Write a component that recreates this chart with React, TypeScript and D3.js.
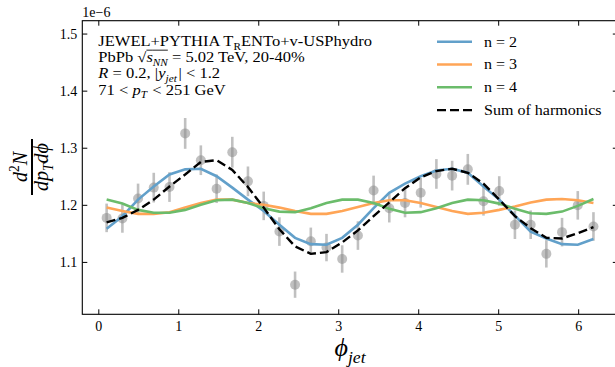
import React, { useEffect, useRef } from 'react';
import * as d3 from 'd3';

// bin centres in phi_jet (32 bins over 0..2pi)
const phi = [0.098, 0.295, 0.491, 0.687, 0.884, 1.080, 1.276, 1.473, 1.669, 1.865, 2.062, 2.258,
  2.454, 2.651, 2.847, 3.043, 3.240, 3.436, 3.632, 3.829, 4.025, 4.221, 4.418, 4.614,
  4.810, 5.007, 5.203, 5.400, 5.596, 5.792, 5.989, 6.185];

// JEWEL points (units of 1e-6)
const counts = [1.178, 1.177, 1.212, 1.231, 1.232, 1.326, 1.279, 1.229, 1.293, 1.242, 1.199, 1.154,
  1.061, 1.137, 1.126, 1.106, 1.147, 1.226, 1.195, 1.204, 1.222, 1.255, 1.252, 1.263,
  1.207, 1.225, 1.166, 1.166, 1.115, 1.153, 1.200, 1.163];
const errors = [0.025, 0.025, 0.026, 0.026, 0.026, 0.027, 0.026, 0.025, 0.027, 0.026, 0.025, 0.025,
  0.023, 0.024, 0.024, 0.024, 0.025, 0.026, 0.025, 0.025, 0.026, 0.026, 0.026, 0.027,
  0.025, 0.026, 0.025, 0.025, 0.024, 0.025, 0.025, 0.025];

// fitted harmonics
const fitN2 = [1.159, 1.181, 1.210, 1.233, 1.254, 1.263, 1.264, 1.251, 1.231, 1.210, 1.190, 1.166,
  1.143, 1.132, 1.131, 1.143, 1.166, 1.195, 1.222, 1.238, 1.251, 1.261, 1.264, 1.257,
  1.233, 1.210, 1.182, 1.154, 1.142, 1.132, 1.131, 1.141];
const fitN3 = [1.196, 1.190, 1.185, 1.185, 1.188, 1.196, 1.204, 1.210, 1.210, 1.204, 1.201, 1.196,
  1.190, 1.185, 1.185, 1.190, 1.197, 1.204, 1.209, 1.209, 1.204, 1.197, 1.190, 1.185,
  1.187, 1.192, 1.198, 1.205, 1.210, 1.211, 1.209, 1.204];
const fitN4 = [1.210, 1.203, 1.192, 1.187, 1.187, 1.192, 1.201, 1.209, 1.210, 1.204, 1.195, 1.189,
  1.188, 1.195, 1.204, 1.210, 1.210, 1.204, 1.194, 1.187, 1.188, 1.195, 1.204, 1.210,
  1.209, 1.203, 1.194, 1.186, 1.185, 1.189, 1.199, 1.211];
const fitSum = [1.170, 1.178, 1.192, 1.210, 1.233, 1.254, 1.276, 1.279, 1.262, 1.232, 1.196, 1.158,
  1.128, 1.115, 1.118, 1.135, 1.156, 1.181, 1.205, 1.230, 1.249, 1.260, 1.264, 1.257,
  1.238, 1.210, 1.181, 1.160, 1.143, 1.142, 1.151, 1.162];

const xTicks = [0, 1, 2, 3, 4, 5, 6];
const yTicks = [1.1, 1.2, 1.3, 1.4, 1.5];
const yDomain = [1.0091, 1.5234];

const legendLabels = ['n = 2', 'n = 3', 'n = 4', 'Sum of harmonics'];
const legendColors = ['#62a0ca', '#ffa556', '#6bbc6b', '#000000'];

type Run = { t: string; it?: boolean; sub?: boolean; sup?: boolean; over?: boolean; gap?: number };

const infoLines: Run[][] = [
  [{ t: 'JEWEL+PYTHIA T' }, { t: 'R', sub: true }, { t: 'ENTo+v-USPhydro' }],
  [{ t: 'PbPb ' }, { t: '\u221A' }, { t: 's', it: true, over: true }, { t: 'NN', it: true, sub: true, over: true }, { t: ' = 5.02 TeV, 20-40%' }],
  [{ t: 'R', it: true }, { t: ' = 0.2, |' }, { t: 'y', it: true }, { t: 'jet', it: true, sub: true, gap: 1.5 }, { t: '| < 1.2' }],
  [{ t: '71 < ' }, { t: 'p', it: true }, { t: 'T', it: true, sub: true, gap: 1 }, { t: ' < 251 GeV' }],
];

const FONT = '"Liberation Serif", "DejaVu Serif", serif';

// writes a list of styled runs one after another, returns the group
function drawRuns(parent: any, x: number, y: number, runs: Run[], size: number, anchor = 'start', sx = 1) {
  const g = parent.append('g');
  let cx = 0;
  runs.forEach((r) => {
    const small = r.sub || r.sup;
    const fs = small ? size * 0.68 : size;
    const dy = r.sub ? size * 0.26 : r.sup ? -size * 0.38 : 0;
    const t = g.append('text')
      .attr('x', cx)
      .attr('y', dy)
      .attr('font-family', FONT)
      .attr('font-size', fs)
      .attr('font-style', r.it ? 'italic' : 'normal')
      .style('white-space', 'pre')
      .attr('fill', '#000')
      .text(r.t);
    const w = (t.node() as SVGTextElement).getComputedTextLength() + (r.gap || 0);
    if (r.over) {
      g.append('line')
        .attr('x1', cx).attr('x2', cx + w)
        .attr('y1', -size * 0.86).attr('y2', -size * 0.86)
        .attr('stroke', '#000').attr('stroke-width', 0.8);
    }
    cx += w;
  });
  const shift = anchor === 'middle' ? -cx * sx / 2 : anchor === 'end' ? -cx * sx : 0;
  g.attr('transform', `translate(${x + shift},${y}) scale(${sx},1)`);
  return g;
}

const App = () => {
  const ref = useRef<SVGSVGElement>(null);

  useEffect(() => {
    const svg = d3.select(ref.current);
    svg.selectAll('*').remove();

    const W = 615;
    const H = 367;
    const left = 82.3, right = 617.8, top = 20.7, bottom = 314.3;

    const ext = d3.extent(phi) as [number, number];
    const pad = (ext[1] - ext[0]) * 0.05;
    const x = d3.scaleLinear().domain([ext[0] - pad, ext[1] + pad]).range([left, right]);
    const y = d3.scaleLinear().domain(yDomain).range([bottom, top]);

    svg.append('rect').attr('width', W).attr('height', H).attr('fill', '#fff');

    const plot = svg.append('g');

    // data points with error bars
    const grey = '#8c8c8c';
    plot.selectAll('line.err')
      .data(counts)
      .enter().append('line')
      .attr('x1', (d, i) => x(phi[i]))
      .attr('x2', (d, i) => x(phi[i]))
      .attr('y1', (d, i) => y(d - errors[i]))
      .attr('y2', (d, i) => y(d + errors[i]))
      .attr('stroke', grey)
      .attr('stroke-opacity', 0.55)
      .attr('stroke-width', 2.6);
    plot.selectAll('circle')
      .data(counts)
      .enter().append('circle')
      .attr('cx', (d, i) => x(phi[i]))
      .attr('cy', d => y(d))
      .attr('r', 5)
      .attr('fill', grey)
      .attr('fill-opacity', 0.55);

    const line = d3.line<number>().x((d, i) => x(phi[i])).y(d => y(d));
    const series = [fitN2, fitN3, fitN4, fitSum];
    series.forEach((s, k) => {
      plot.append('path')
        .attr('d', line(s))
        .attr('fill', 'none')
        .attr('stroke', legendColors[k])
        .attr('stroke-width', k === 3 ? 2.4 : 2.6)
        .attr('stroke-dasharray', k === 3 ? '9,4' : null);
    });

    // axes frame and ticks (matplotlib style, ticks inward on all sides)
    const axis = svg.append('g').attr('stroke', '#000');
    axis.append('rect')
      .attr('x', left).attr('y', top)
      .attr('width', right - left).attr('height', bottom - top)
      .attr('fill', 'none').attr('stroke-width', 1.1);
    const tl = 5;
    xTicks.forEach(t => {
      axis.append('line').attr('x1', x(t)).attr('x2', x(t)).attr('y1', bottom).attr('y2', bottom - tl);
      axis.append('line').attr('x1', x(t)).attr('x2', x(t)).attr('y1', top).attr('y2', top + tl);
    });
    yTicks.forEach(t => {
      axis.append('line').attr('x1', left).attr('x2', left + tl).attr('y1', y(t)).attr('y2', y(t));
      axis.append('line').attr('x1', right).attr('x2', right - tl).attr('y1', y(t)).attr('y2', y(t));
    });

    const labels = svg.append('g').attr('font-family', FONT).attr('fill', '#000');
    xTicks.forEach(t => {
      labels.append('text')
        .attr('x', x(t)).attr('y', bottom + 17)
        .attr('text-anchor', 'middle').attr('font-size', 14)
        .text(d3.format('d')(t));
    });
    yTicks.forEach(t => {
      labels.append('text')
        .attr('x', left - 5).attr('y', y(t) + 5)
        .attr('text-anchor', 'end').attr('font-size', 14)
        .text(d3.format('.1f')(t));
    });
    labels.append('text')
      .attr('x', left).attr('y', top - 3.5)
      .attr('font-size', 14)
      .text('1e\u22126');

    // x label
    drawRuns(svg, (left + right) / 2, 356,
      [{ t: '\u03D5', it: true }, { t: 'jet', it: true, sub: true }], 26, 'middle');

    // y label as a fraction, rotated
    const yl = svg.append('g').attr('transform', 'translate(0,167) rotate(-90)');
    drawRuns(yl, 0, 27, [{ t: 'd', it: true }, { t: '2', sup: true }, { t: 'N', it: true }], 20, 'middle');
    drawRuns(yl, 0, 48, [{ t: 'dp', it: true }, { t: 'T', it: true, sub: true }, { t: 'd\u03D5', it: true }], 20, 'middle');
    yl.append('line')
      .attr('x1', -28).attr('x2', 28)
      .attr('y1', 32).attr('y2', 32)
      .attr('stroke', '#000').attr('stroke-width', 2);

    // annotation block (wide serif, like the original's computer modern)
    infoLines.forEach((runs, i) => {
      drawRuns(svg, 98.3, 46 + i * 16.2, runs, 14, 'start', 1.18);
    });

    // legend
    const lg = svg.append('g');
    legendLabels.forEach((lab, i) => {
      const yy = 41.7 + i * 22.8;
      lg.append('line')
        .attr('x1', 437).attr('x2', 472)
        .attr('y1', yy).attr('y2', yy)
        .attr('stroke', legendColors[i])
        .attr('stroke-width', i === 3 ? 2.4 : 2.6)
        .attr('stroke-dasharray', i === 3 ? '9,4' : null);
      drawRuns(lg, 484, yy + 4.8, [{ t: lab }], 13.6, 'start', 1.18);
    });
  }, []);

  return (
    <svg ref={ref} width={615} height={367}
      style={{ position: 'absolute', left: 0, top: 0, display: 'block' }} />
  );
};

export default App;
